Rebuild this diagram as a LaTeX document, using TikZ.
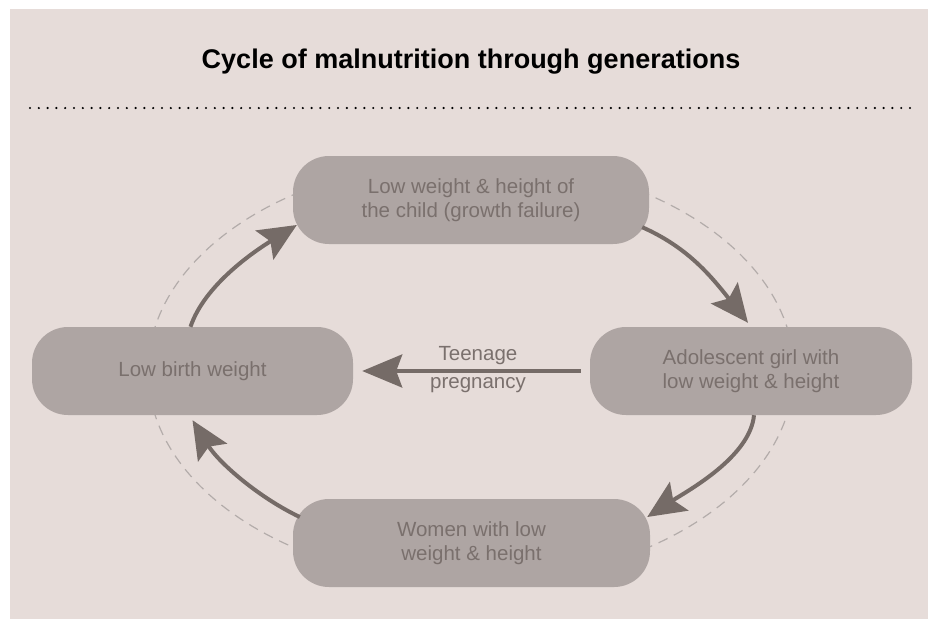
\documentclass[tikz,border=0pt]{standalone}
\usepackage{fontspec}
\setmainfont{Liberation Sans}
\usetikzlibrary{arrows.meta}
\definecolor{bgc}{HTML}{E6DCD9}
\definecolor{boxc}{HTML}{AEA5A3}
\definecolor{txtc}{HTML}{7A706D}
\definecolor{arrc}{HTML}{756B67}
\definecolor{dashc}{HTML}{B3ACAA}
\tikzset{
  stagebox/.style={rounded corners=36pt, fill=boxc, text=txtc, align=center,
    minimum height=88pt, inner sep=0pt,
    font=\fontsize{20.5}{24}\selectfont},
  cyclearrow/.style={draw=arrc, line width=4pt,
    -{Stealth[length=38pt,width=34pt,inset=7pt]}},
  labeltext/.style={text=txtc, font=\fontsize{20.5}{24}\selectfont, inner sep=0pt},
}
\begin{document}
\begin{tikzpicture}[x=1pt,y=-1pt]
\useasboundingbox (0,0) rectangle (928,619);
\fill[white] (0,0) rectangle (928,619);
\fill[bgc] (10,9) rectangle (928,619);
\node[anchor=base, font=\fontsize{27}{32}\bfseries\selectfont, text=black] (title) at (471,68) {Cycle of malnutrition through generations};
\draw[line width=2.4pt, line cap=round, dash pattern=on 0pt off 8.8pt] (30,108) -- (912,108);
% dashed ellipse
\draw[dashc, line width=1.2pt, dash pattern=on 10pt off 7pt] (471,371) ellipse [x radius=323, y radius=211];
% nodes
\node[stagebox, minimum width=356pt] (top) at (471,200) {Low weight \& height of\\the child (growth failure)};
\node[stagebox, minimum width=322pt] (right) at (751,371) {Adolescent girl with\\low weight \& height};
\node[stagebox, minimum width=321pt] (left) at (192.5,371) {Low birth weight};
\node[stagebox, minimum width=357pt] (bottom) at (471.5,543) {Women with low\\weight \& height};
% cycle arrows
\draw[cyclearrow] ([shift={(-7,-17)}]top.south east) .. controls +(45,20) and +(-38,-48) .. ([shift={(-3,-4)}]right.north);
\draw[cyclearrow] ([shift={(3,0)}]right.south) .. controls +(-4,42) and +(40,-26) .. ([shift={(-3,-26)}]bottom.east);
\draw[cyclearrow] ([shift={(7,-26)}]bottom.west) .. controls +(-42,-20) and +(26,42) .. ([shift={(0,5)}]left.south);
\draw[cyclearrow] ([shift={(-2,0)}]left.north) .. controls +(14,-42) and +(-42,26) .. ([shift={(4,25)}]top.west);
% teenage pregnancy arrow
\draw[draw=arrc, line width=4pt, -{Stealth[length=40pt,width=33pt,inset=6pt]}] ([xshift=-9pt]right.west) -- ([xshift=9pt]left.east);
\node[labeltext] (teen) at (478,356) {Teenage};
\node[labeltext] (preg) at (478,385) {pregnancy};
\end{tikzpicture}
\end{document}
